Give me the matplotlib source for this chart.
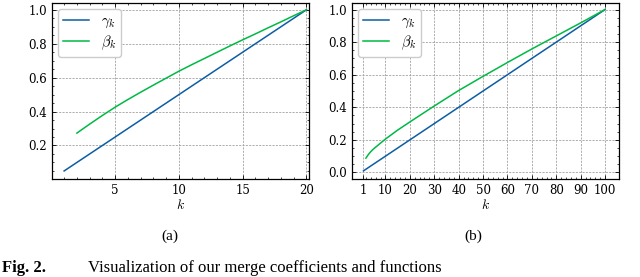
import matplotlib
matplotlib.use("Agg")
import matplotlib.pyplot as plt
from matplotlib.ticker import AutoMinorLocator, FixedLocator

plt.rcParams['font.family'] = 'serif'
plt.rcParams['font.serif'] = ['DejaVu Serif']
plt.rcParams['mathtext.fontset'] = 'cm'
plt.rcParams['font.size'] = 8.5

# (a) K = 20
k_a_gamma = [1, 2, 3, 4, 5, 6, 7, 8, 9, 10, 11, 12, 13, 14, 15, 16, 17, 18, 19, 20]
gamma_a = [0.05, 0.10, 0.15, 0.20, 0.25, 0.30, 0.35, 0.40, 0.45, 0.50,
           0.55, 0.60, 0.65, 0.70, 0.75, 0.80, 0.85, 0.90, 0.95, 1.00]
k_a_beta = [2, 3, 4, 5, 6, 7, 8, 9, 10, 11, 12, 13, 14, 15, 16, 17, 18, 19, 20]
beta_a = [0.273, 0.326, 0.377, 0.426, 0.471, 0.514, 0.556, 0.597, 0.638, 0.676,
          0.713, 0.750, 0.787, 0.823, 0.858, 0.894, 0.929, 0.965, 1.000]

# (b) K = 100
k_b_gamma = [1, 10, 20, 30, 40, 50, 60, 70, 80, 90, 100]
gamma_b = [0.01, 0.10, 0.20, 0.30, 0.40, 0.50, 0.60, 0.70, 0.80, 0.90, 1.00]
k_b_beta = [2, 3, 4, 5, 7, 10, 15, 20, 30, 40, 50, 60, 70, 80, 90, 100]
beta_b = [0.088, 0.110, 0.128, 0.143, 0.168, 0.205, 0.260, 0.310, 0.408, 0.503,
          0.590, 0.675, 0.758, 0.838, 0.918, 1.000]

blue = '#0C5DA5'
green = '#00B945'

fig = plt.figure(figsize=(6.4, 2.77), dpi=100)
ax1 = fig.add_axes([52/640, 1 - 179/277, 257/640, 176/277])
ax2 = fig.add_axes([352/640, 1 - 179/277, 267/640, 176/277])


def style(ax):
    ax.tick_params(which='both', direction='in', top=True, right=True, labelsize=8.5)
    ax.tick_params(which='major', length=3, width=0.6)
    ax.tick_params(which='minor', length=1.6, width=0.5)
    ax.xaxis.set_minor_locator(AutoMinorLocator())
    ax.yaxis.set_minor_locator(AutoMinorLocator())
    ax.grid(True, which='major', linestyle=(0, (2.5, 1.5)), color='#a0a0a0', linewidth=0.6)
    for s in ax.spines.values():
        s.set_linewidth(0.9)
    ax.set_xlabel('$k$', fontsize=10, labelpad=1)
    ax.legend(loc='upper left', fontsize=10.5, handlelength=1.8, handletextpad=0.8,
              borderpad=0.35, labelspacing=0.25, framealpha=1, edgecolor='#cccccc',
              borderaxespad=0.4)


ax1.plot(k_a_gamma, gamma_a, color=blue, lw=1.1, label=r'$\gamma_k$')
ax1.plot(k_a_beta, beta_a, color=green, lw=1.1, label=r'$\beta_k$')
ax1.set_xlim(0.05, 20.2)
ax1.set_ylim(0.0025, 1.04)
ax1.set_xticks([5, 10, 15, 20])
ax1.set_yticks([0.2, 0.4, 0.6, 0.8, 1.0])
style(ax1)

ax2.plot(k_b_gamma, gamma_b, color=blue, lw=1.1, label=r'$\gamma_k$')
ax2.plot(k_b_beta, beta_b, color=green, lw=1.1, label=r'$\beta_k$')
ax2.set_xlim(-3.7, 105.7)
ax2.set_ylim(-0.04, 1.04)
ax2.set_xticks([1, 10, 20, 30, 40, 50, 60, 70, 80, 90, 100])
ax2.set_yticks([0.0, 0.2, 0.4, 0.6, 0.8, 1.0])
style(ax2)
ax2.xaxis.set_minor_locator(FixedLocator(list(range(2, 101, 2))))

fig.text(170/640, 1 - 236/277, '(a)', ha='center', va='center', fontsize=11,
         family='Liberation Serif')
fig.text(473/640, 1 - 236/277, '(b)', ha='center', va='center', fontsize=11,
         family='Liberation Serif')
fig.text(2/640, 1 - 272/277, 'Fig. 2.', ha='left', va='baseline', fontsize=12,
         family='Liberation Serif', fontweight='bold')
fig.text(88/640, 1 - 272/277, 'Visualization of our merge coefficients and functions',
         ha='left', va='baseline', fontsize=12, family='Liberation Serif')

fig.savefig('out.png', dpi=100)
